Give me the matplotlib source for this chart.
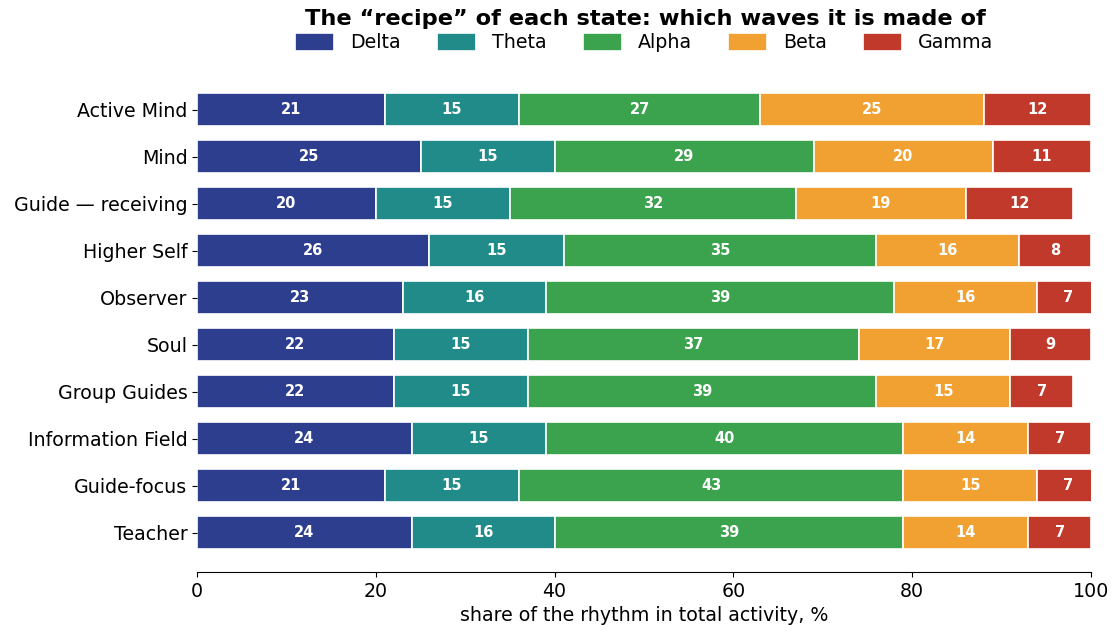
import numpy as np
import matplotlib
matplotlib.use("Agg")
import matplotlib.pyplot as plt

# ------------ data ------------
states = ["Active Mind", "Mind", "Guide \u2014 receiving", "Higher Self", "Observer",
          "Soul", "Group Guides", "Information Field", "Guide-focus", "Teacher"]
waves = ["Delta", "Theta", "Alpha", "Beta", "Gamma"]
delta = [21, 25, 20, 26, 23, 22, 22, 24, 21, 24]
theta = [15, 15, 15, 15, 16, 15, 15, 15, 15, 16]
alpha = [27, 29, 32, 35, 39, 37, 39, 40, 43, 39]
beta = [25, 20, 19, 16, 16, 17, 15, 14, 15, 14]
gamma = [12, 11, 12, 8, 7, 9, 7, 7, 7, 7]
colors = ["#2e3e8f", "#218b89", "#3ba24d", "#f0a132", "#c0392b"]

series = [delta, theta, alpha, beta, gamma]
FS = 13.7

fig = plt.figure(figsize=(11.2, 6.37), dpi=100)
ax = fig.add_axes([0.176, 0.102, 0.798, 0.787])

y = np.arange(len(states))
left = np.zeros(len(states))
for name, vals, col in zip(waves, series, colors):
    vals = np.array(vals, dtype=float)
    bars = ax.barh(y, vals, left=left, height=0.7, color=col,
                   edgecolor="white", linewidth=1.2, label=name)
    for b, v in zip(bars, vals):
        cx = b.get_x() + b.get_width() / 2
        if cx > 100:
            cx = (b.get_x() + 100) / 2
        ax.text(cx, b.get_y() + b.get_height() / 2, f"{v:.0f}",
                ha="center", va="center", color="white",
                fontsize=10.5, fontweight="bold")
    left += vals

ax.set_yticks(y)
ax.set_yticklabels(states, fontsize=FS)
ax.invert_yaxis()
ax.set_xlim(0, 100)
ax.set_xticks([0, 20, 40, 60, 80, 100])
ax.tick_params(axis="x", labelsize=FS)
ax.set_xlabel("share of the rhythm in total activity, %", fontsize=FS)

for s in ["top", "right", "left"]:
    ax.spines[s].set_visible(False)

fig.text(0.576, 0.970, "The \u201crecipe\u201d of each state: which waves it is made of",
         ha="center", va="center", fontsize=16.2, fontweight="bold")
ax.legend(loc="center", bbox_to_anchor=(0.5, 1.056), ncol=5, frameon=False,
          fontsize=FS, handlelength=2.05, handleheight=1.05, columnspacing=1.9,
          handletextpad=0.84, borderaxespad=0)

fig.savefig("out.png", dpi=100)
